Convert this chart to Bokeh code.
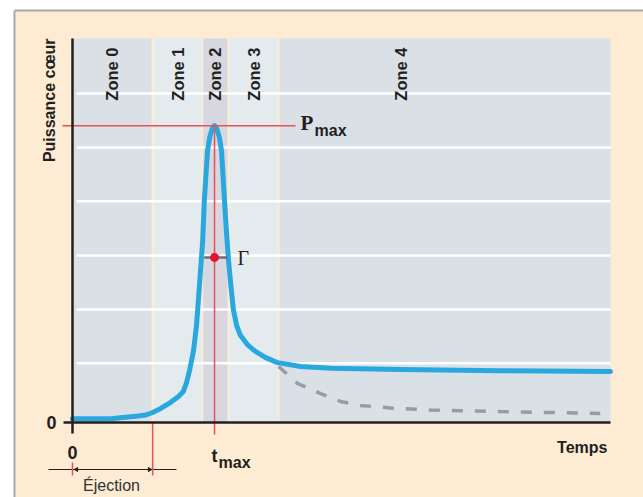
import math
from bokeh.plotting import figure
from bokeh.models import Range1d, FixedTicker, Label, LinearAxis
from bokeh.embed import file_html
from bokeh.resources import INLINE

# ---------------- data ----------------
zone_names = ["Zone 0", "Zone 1", "Zone 2", "Zone 3", "Zone 4"]
zone_start = [0.0, 15.2, 24.3, 29.2, 38.5]
zone_end = [14.7, 24.0, 28.8, 38.1, 100.0]
grid_levels = [15.4, 29.4, 43.5, 57.6, 71.6, 85.7]

t_power = [0.0, 7.1, 11.7, 13.6, 14.9, 16.4, 18.2, 19.7, 20.6, 21.2, 21.75, 22.5,
           23.05, 23.4, 23.8, 24.2, 24.5, 25.1, 25.5, 25.85, 26.1, 26.4, 26.7, 26.95, 27.3,
           27.7, 28.25, 28.6, 29.0, 29.4, 29.9, 30.5, 31.2, 32.5, 34.0, 35.9,
           38.1, 42.4, 48.0, 61.0, 79.5, 100.0]
power = [1.0, 1.0, 1.6, 1.95, 2.6, 3.65, 5.2, 6.8, 8.1, 10.4, 13.5, 18.75,
         25.3, 31.8, 39.6, 47.4, 57.8, 70.8, 74.2, 76.0, 76.9, 77.3, 76.9, 76.0, 74.2,
         70.8, 57.8, 50.0, 42.2, 36.2, 29.4, 25.3, 22.7, 20.3, 18.5, 16.9,
         15.6, 14.6, 14.1, 13.8, 13.5, 13.3]

t_alt = [38.3, 41.8, 46.1, 49.8, 53.5, 59.1, 66.5, 79.6, 98.1]
power_alt = [14.6, 10.2, 7.55, 5.47, 4.43, 3.78, 3.26, 2.86, 2.34]

t_max = 26.4
p_max = 77.3
gamma_level = 43.0
gamma_left = 24.5
gamma_right = 28.8
ejection_end = 14.9

# ---------------- geometry helpers (page pixels -> data) ----------------
SX, SY = 5.38, 3.84
X0, Y0 = 72.0, 422.0
OFF = 0  # page offset of the canvas


def px(x):
    return (x - X0) / SX


def py(y):
    return (Y0 - y) / SY


W, H = 643, 497
p = figure(width=W, height=H,
           x_range=Range1d(px(OFF), px(OFF + W)), y_range=Range1d(py(OFF + H), py(OFF)),
           output_backend="svg", toolbar_location=None,
           x_axis_location=None, y_axis_location=None,
           min_border=0, outline_line_color=None,
           background_fill_color="white", border_fill_color="white")
p.xgrid.visible = False
p.ygrid.visible = False

INK = "#231f20"
RED = "#e8505a"
SANS = "Liberation Sans"
SERIF = "Liberation Serif"

# beige panel and gray border
p.quad(left=px(15), right=px(660), bottom=py(510), top=py(10),
       fill_color="#fdebd3", line_color=None)
p.segment(x0=[px(14), px(14)], y0=[py(10), py(10)], x1=[px(660), px(14)], y1=[py(10), py(510)],
          line_color="#a3a9ad", line_width=2)

# zones
zone_colors = ["#d9e0e6", "#e4ebef", "#d6d7df", "#e4ebef", "#d9e0e6"]
p.quad(left=zone_start, right=zone_end, bottom=0, top=100,
       fill_color=zone_colors, line_color=None)

# grid lines
p.segment(x0=[px(76)] * len(grid_levels), x1=[zone_end[-1]] * len(grid_levels),
          y0=grid_levels, y1=grid_levels, line_color="white", line_width=2.5)

# zone labels
zone_label_x = [(s + e) / 2 for s, e in zip(zone_start[:4], zone_end[:4])] + [px(400)]
for name, zx in zip(zone_names, zone_label_x):
    p.add_layout(Label(x=zx, y=py(47), text=name, angle=math.pi / 2,
                       text_align="right", text_baseline="middle",
                       text_font=SANS, text_font_style="bold",
                       text_font_size="16.5px", text_color=INK))

# curves
p.line(t_alt, power_alt, line_color="#9a9b9d", line_width=3.5, line_dash="11 12")
p.line(t_power, power, line_color="#29a8e0", line_width=5, line_join="round", line_cap="round")

# Pmax and tmax lines
p.segment(x0=[px(62)], y0=[p_max], x1=[px(295)], y1=[p_max], line_color=RED, line_width=1.5)
p.segment(x0=[t_max], y0=[p_max], x1=[t_max], y1=[py(434)], line_color=RED, line_width=1.5)

# Gamma width
p.segment(x0=[gamma_left], y0=[gamma_level], x1=[gamma_right], y1=[gamma_level],
          line_color="#6d6e71", line_width=2.5)
p.scatter([t_max], [gamma_level], size=8, color="#e8112d")

# Ejection bracket
p.segment(x0=[px(48)], y0=[py(469)], x1=[px(176)], y1=[py(469)], line_color=INK, line_width=1)
p.segment(x0=[0, ejection_end], y0=[py(462), 0], x1=[0, ejection_end], y1=[py(475), py(475)],
          line_color=RED, line_width=1.5)
p.scatter([px(76), px(149)], [py(469), py(469)], marker="triangle", size=4,
          angle=[math.pi / 2, -math.pi / 2], color=INK)

# axes
xaxis = LinearAxis(fixed_location=0, bounds=(0, 100), ticker=FixedTicker(ticks=[0]))
yaxis = LinearAxis(fixed_location=0, bounds=(0, 100), ticker=FixedTicker(ticks=[0]))
for ax, out, standoff in ((xaxis, 11, 12), (yaxis, 9, 7)):
    ax.axis_line_color = INK
    ax.axis_line_width = 2.5
    ax.major_tick_line_color = INK
    ax.major_tick_line_width = 2.5
    ax.major_tick_in = 0
    ax.major_tick_out = out
    ax.minor_tick_line_color = None
    ax.major_label_standoff = standoff
    ax.major_label_text_font = SANS
    ax.major_label_text_font_style = "bold"
    ax.major_label_text_font_size = "18px"
    ax.major_label_text_color = INK
p.add_layout(xaxis, "below")
p.add_layout(yaxis, "left")

# texts
def lab(x, y, text, size, font=SANS, style="bold", align="left", baseline="alphabetic",
        angle=0.0, color=INK):
    p.add_layout(Label(x=x, y=y, text=text, text_font=font, text_font_style=style,
                       text_font_size=size, text_align=align, text_baseline=baseline,
                       angle=angle, text_color=color))

lab(px(49), py(38), "Puissance cœur", "16px", align="right", baseline="middle", angle=math.pi / 2)
lab(px(607), py(447), "Temps", "16px", align="right")
lab(px(300), py(122), "P", "21px", font=SERIF)
lab(px(314), py(130), "max", "16px")
lab(px(211), py(455), "t", "18px")
lab(px(218), py(462), "max", "16px")
lab(px(237), py(257), "Γ", "20px", font=SERIF, style="normal")
lab(px(111), py(485), "Éjection", "16px", style="normal", align="center", color="#333333")

open("out.html", "w").write(file_html(p, INLINE))
